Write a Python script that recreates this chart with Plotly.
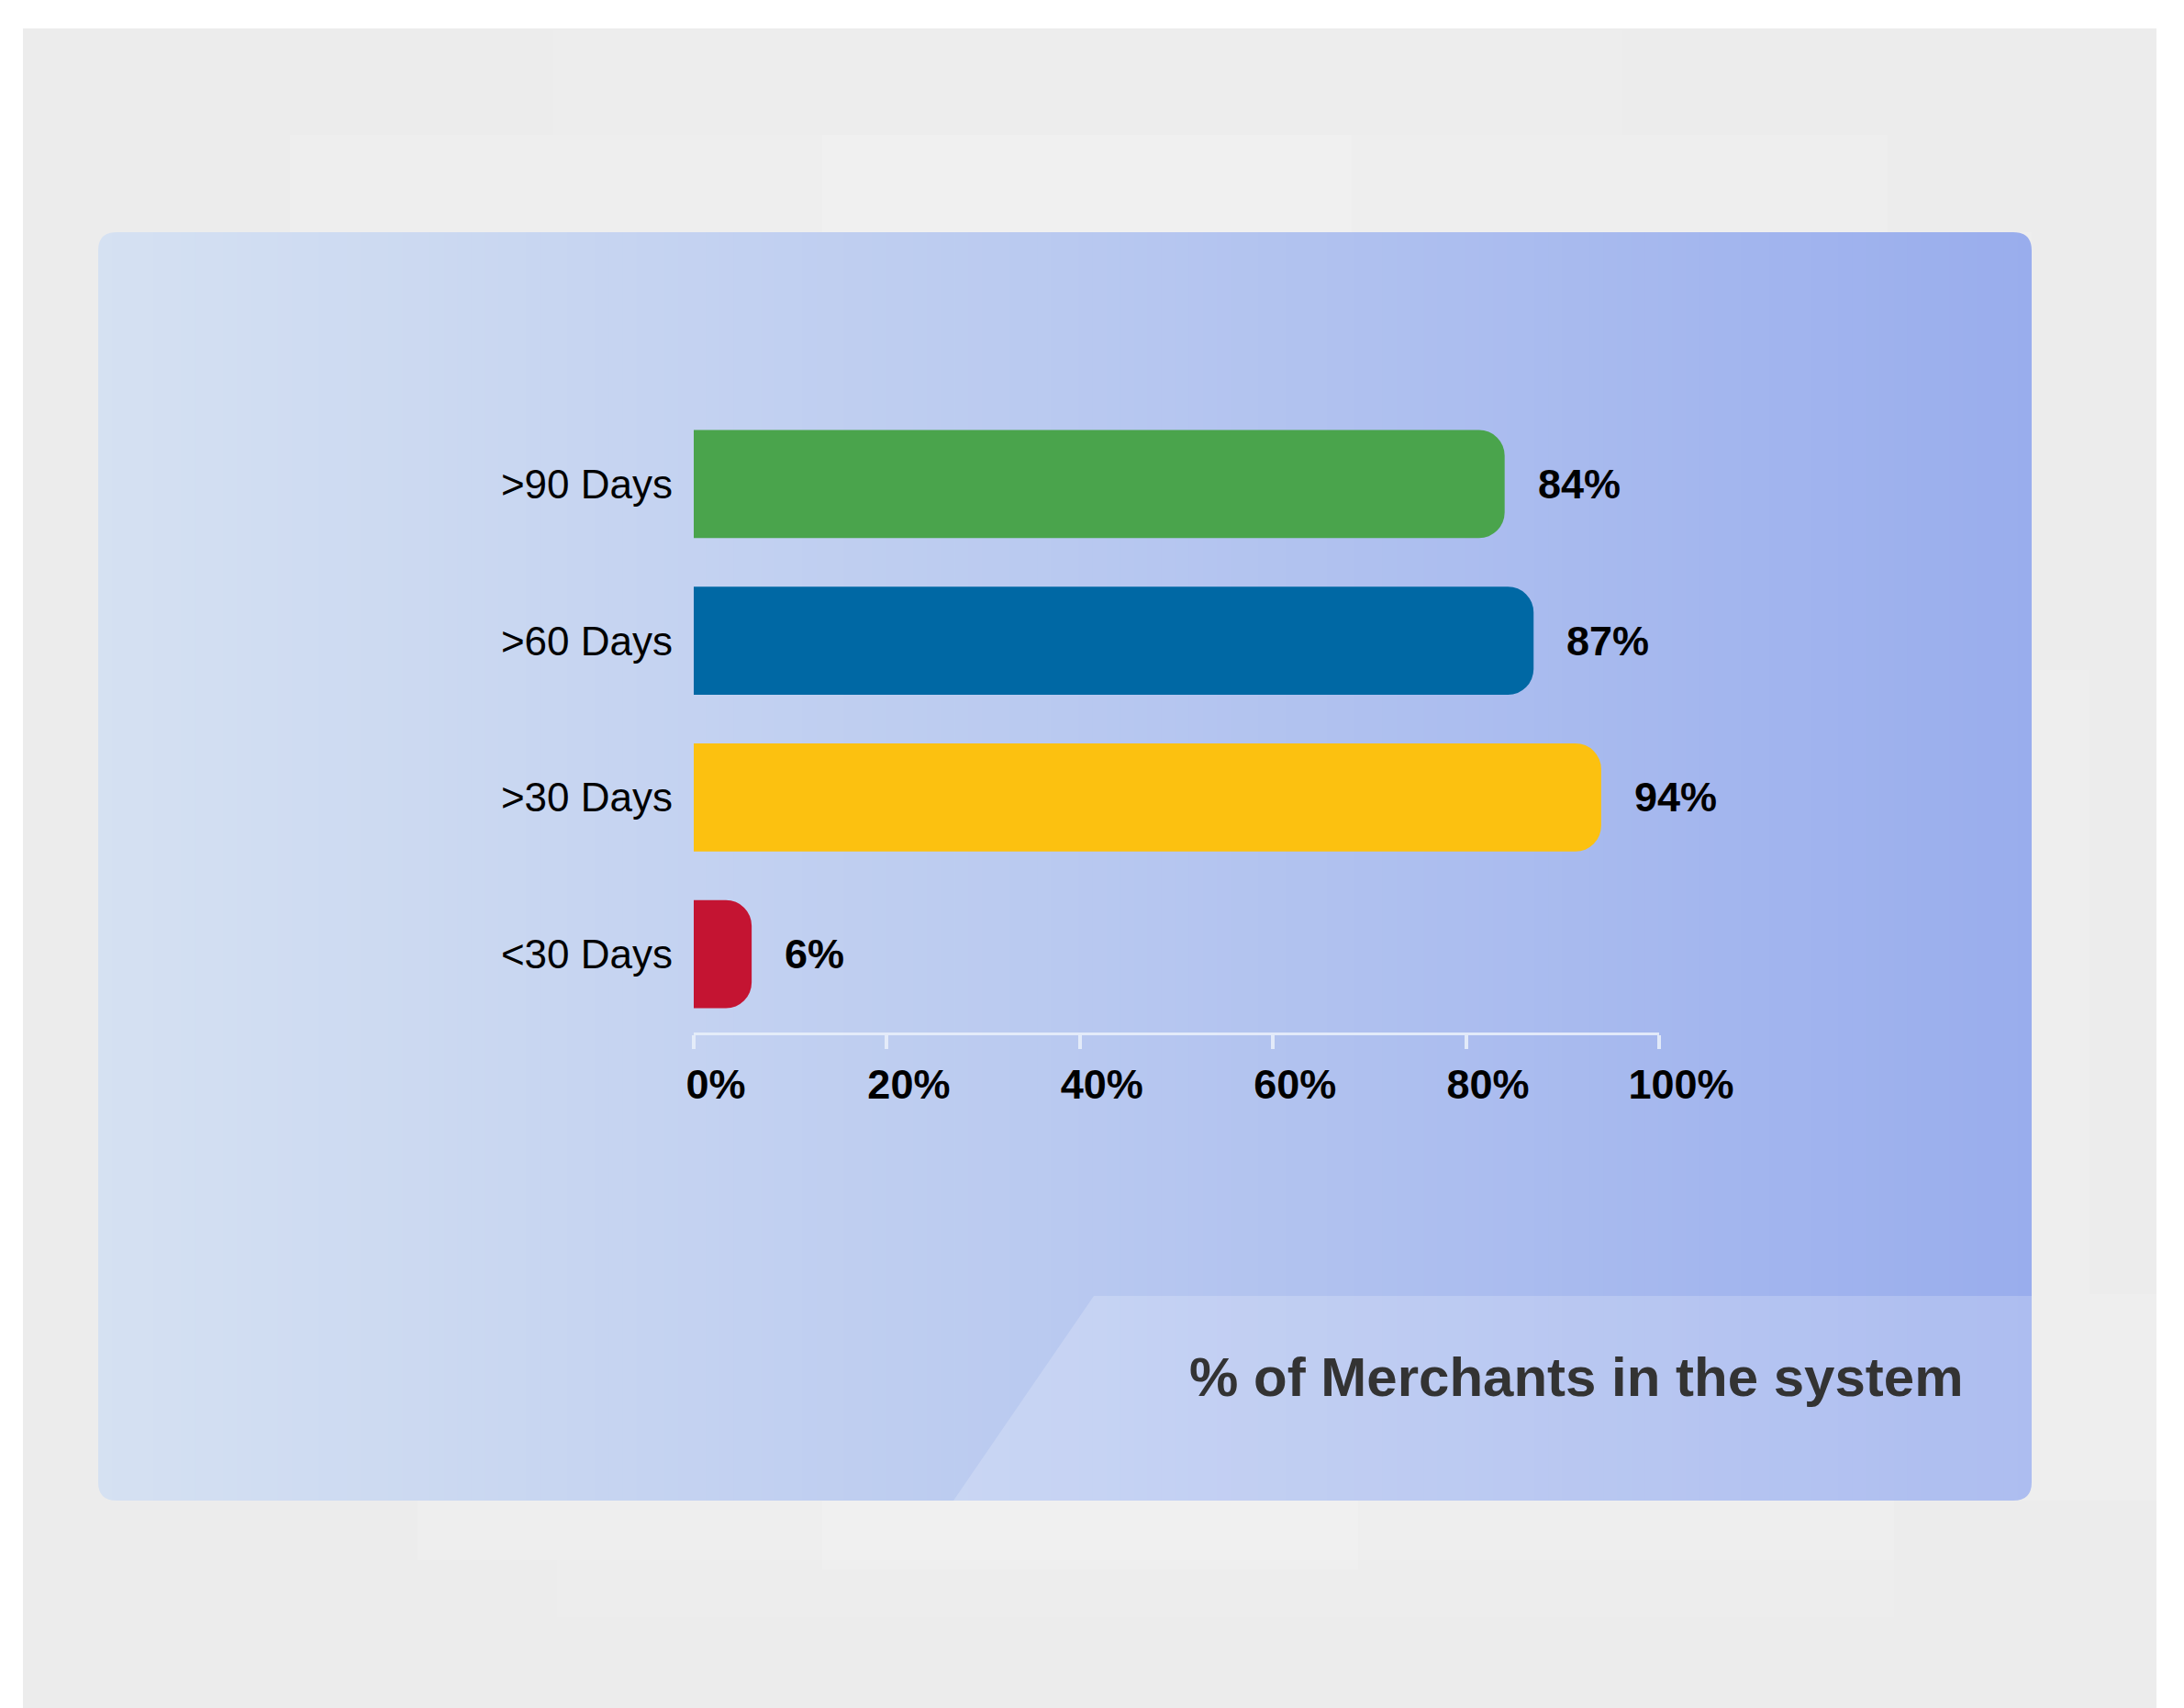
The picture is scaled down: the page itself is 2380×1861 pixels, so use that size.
import plotly.graph_objects as go

# ---------------- data ----------------
categories = [">90 Days", ">60 Days", ">30 Days", "<30 Days"]
values = [84, 87, 94, 6]
bar_colors = ["#4aa44c", "#0068a4", "#fcc110", "#c41432"]
tick_vals = [0, 20, 40, 60, 80, 100]
tick_text = ["0%", "20%", "40%", "60%", "80%", "100%"]
title_text = "% of Merchants in the system"

# ---------------- geometry helpers (pixels -> paper) ----------------
W, H = 2380, 1861


def fx(x):
    return x / W


def fy(y):
    return 1 - y / H


shapes = []

# outer gray backdrop
shapes.append(dict(type="rect", xref="paper", yref="paper", x0=fx(25), x1=fx(2350),
                   y0=fy(1861), y1=fy(31), fillcolor="#ececec", line_width=0, layer="below"))

# subtle lighter patches in the backdrop
patches = [
    (603, 1768, 33, 147, 0.08),
    (316, 2057, 147, 253, 0.14),
    (896, 1473, 147, 253, 0.12),
    (455, 2064, 1635, 1700, 0.14),
    (896, 1480, 1635, 1710, 0.12),
    (607, 2064, 1700, 1762, 0.07),
    (2213, 2277, 730, 1410, 0.1),
    (2213, 2350, 1410, 1635, 0.1),
]
for x0, x1, y0, y1, a in patches:
    shapes.append(dict(type="rect", xref="paper", yref="paper", x0=fx(x0), x1=fx(x1),
                       y0=fy(y1), y1=fy(y0), fillcolor=f"rgba(255,255,255,{a})",
                       line_width=0, layer="below"))

# gradient panel via vertical strips
PX0, PX1, PY0, PY1 = 107, 2214, 253, 1635
stops = [(0.0, (213, 225, 242)), (0.5, (185, 201, 240)), (1.0, (153, 173, 237))]


def grad(t):
    for (t0, c0), (t1, c1) in zip(stops[:-1], stops[1:]):
        if t <= t1:
            u = (t - t0) / (t1 - t0)
            return tuple(round(c0[i] + (c1[i] - c0[i]) * u) for i in range(3))
    return stops[-1][1]


N = 140
step = (PX1 - PX0) / N
for i in range(N):
    x0 = PX0 + i * step
    x1 = x0 + step + 0.8
    c = grad((i + 0.5) / N)
    shapes.append(dict(type="rect", xref="paper", yref="paper", x0=fx(x0), x1=fx(min(x1, PX1)),
                       y0=fy(PY1), y1=fy(PY0), fillcolor=f"rgb{c}", line_width=0, layer="below"))

# lighter trapezoid in the bottom-right of the panel
trap = [(1192, 1412), (PX1, 1412), (PX1, PY1), (1039, PY1)]
path = "M " + " L ".join(f"{fx(x)},{fy(y)}" for x, y in trap) + " Z"
shapes.append(dict(type="path", xref="paper", yref="paper", path=path,
                   fillcolor="rgba(255,255,255,0.2)", line_width=0, layer="below"))

# rounded-corner masks
R = 20
corners = [
    ((PX0, PY0), (PX0 + R, PY0), (PX0, PY0 + R), "#ececec"),
    ((PX1, PY0), (PX1 - R, PY0), (PX1, PY0 + R), "#eeeeee"),
    ((PX0, PY1), (PX0 + R, PY1), (PX0, PY1 - R), "#ececec"),
    ((PX1, PY1), (PX1 - R, PY1), (PX1, PY1 - R), "#eeeeee"),
]
for (cx, cy), (ax, ay), (bx, by), col in corners:
    p = (f"M {fx(cx)},{fy(cy)} L {fx(ax)},{fy(ay)} "
         f"Q {fx(cx)},{fy(cy)} {fx(bx)},{fy(by)} Z")
    shapes.append(dict(type="path", xref="paper", yref="paper", path=p,
                       fillcolor=col, line_width=0, layer="below"))

# ---------------- figure ----------------
fig = go.Figure()
fig.add_trace(go.Bar(
    x=values, y=categories, orientation="h",
    marker=dict(color=bar_colors, line=dict(width=0)),
    width=0.69, hoverinfo="skip",
))

annotations = []
for cat, v in zip(categories, values):
    annotations.append(dict(
        x=v, y=cat, xref="x", yref="y", text=f"{v}%", showarrow=False,
        xanchor="left", yanchor="middle", xshift=34,
        font=dict(family="Liberation Sans", size=45, color="#000000", weight="bold"),
    ))

annotations.append(dict(
    x=fx(2142), y=fy(1500), xref="paper", yref="paper", text=title_text,
    showarrow=False, xanchor="right", yanchor="middle",
    font=dict(family="Liberation Sans", size=60, color="#333333", weight="bold"),
))

axis_col = "rgba(232,238,250,0.9)"
fig.update_layout(
    template="none",
    width=W, height=H,
    autosize=False,
    margin=dict(l=0, r=0, t=0, b=0, pad=0, autoexpand=False),
    paper_bgcolor="#ffffff",
    plot_bgcolor="rgba(0,0,0,0)",
    showlegend=False,
    barcornerradius=28,
    shapes=shapes,
    annotations=annotations,
    font=dict(family="Liberation Sans", color="#000000"),
    xaxis=dict(
        domain=[fx(756), fx(1808)], range=[0, 100],
        automargin=False,
        showgrid=False, zeroline=False,
        showline=True, linecolor=axis_col, linewidth=3,
        ticks="outside", ticklen=15, tickwidth=4, tickcolor=axis_col,
        tickvals=tick_vals, ticktext=tick_text,
        tickfont=dict(family="Liberation Sans", size=45, color="#000000", weight="bold"),
        ticklabelshift=24, ticklabelstandoff=0,
        fixedrange=True,
    ),
    yaxis=dict(
        domain=[fy(1125), fy(442)],
        automargin=False,
        type="category", categoryorder="array", categoryarray=categories,
        range=[3.5, -0.5],
        showgrid=False, zeroline=False, showline=False, ticks="",
        tickfont=dict(family="Liberation Sans", size=44, color="#000000"),
        ticklabelstandoff=22,
        fixedrange=True,
    ),
)

fig.write_html(
    "out.html",
    config={"responsive": False, "displayModeBar": False},
    post_script=("document.documentElement.style.margin='0';"
                 "document.body.style.margin='0';"
                 "document.body.style.overflow='hidden';"
                 "document.documentElement.style.overflow='hidden';"),
)
